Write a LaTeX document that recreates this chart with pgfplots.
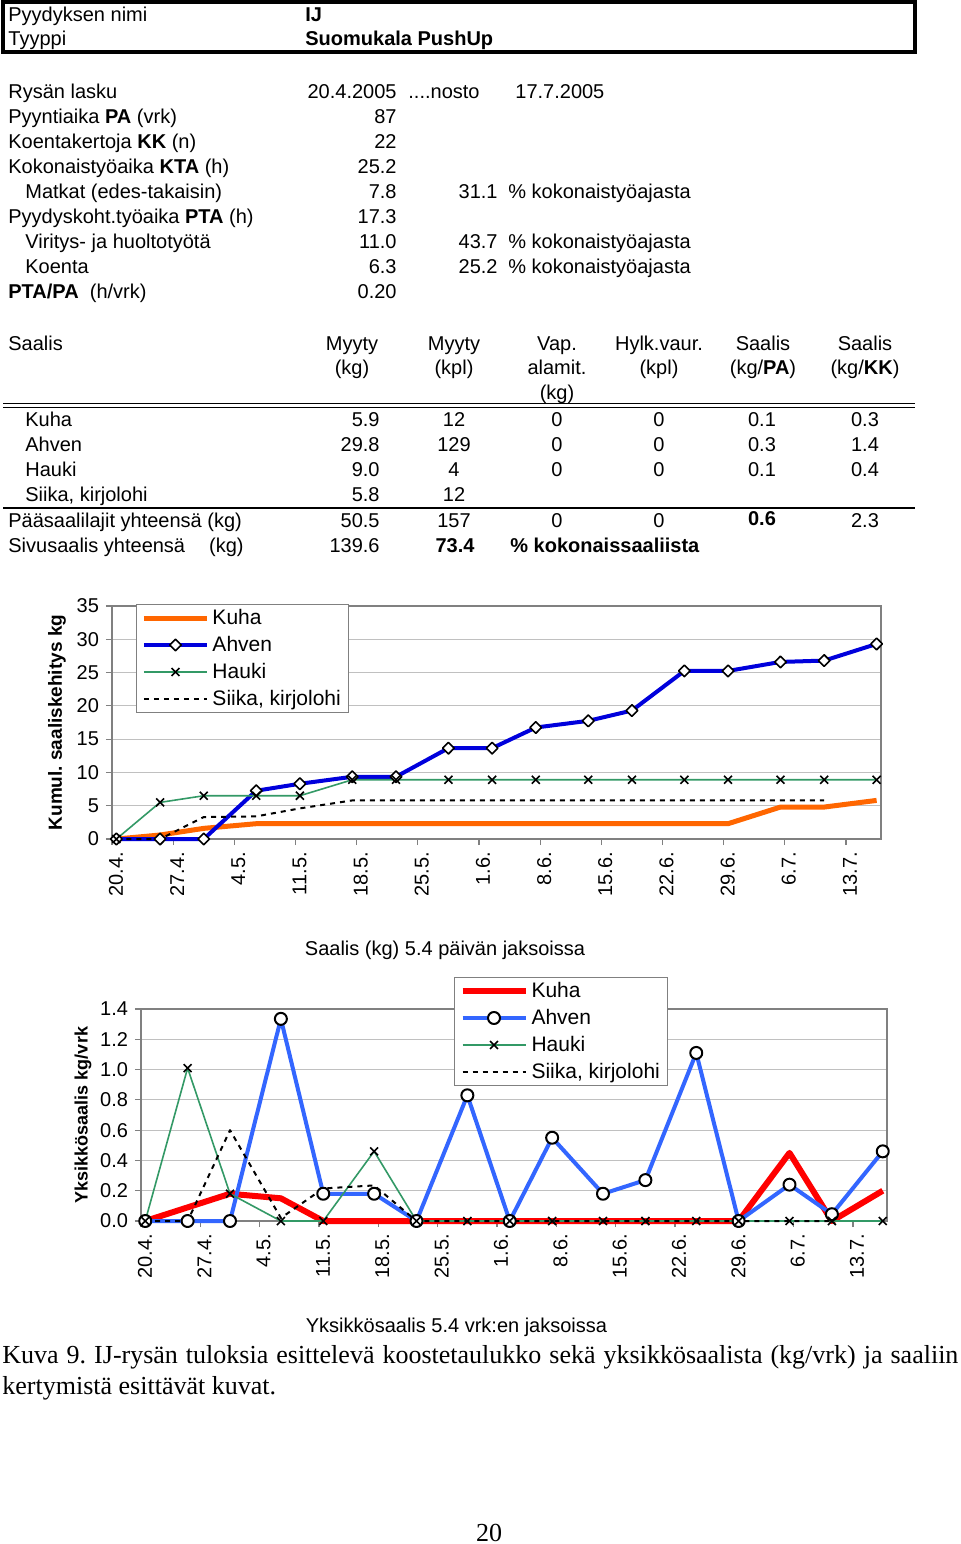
\documentclass[border=0pt]{standalone}
\usepackage{fontspec}
\setmainfont{Liberation Sans}
\newfontfamily\serif{Liberation Serif}
\usepackage{pgfplots}
\usepackage{pgfplotstable}
\pgfplotsset{compat=1.18}

\definecolor{xlorange}{RGB}{255,102,0}
\definecolor{xlblue}{RGB}{0,0,220}
\definecolor{xlgreen}{RGB}{51,153,102}
\definecolor{xlred}{RGB}{255,0,0}
\definecolor{xlroyal}{RGB}{51,102,255}
\definecolor{xlgray}{RGB}{128,128,128}
\definecolor{xlgrid}{RGB}{192,192,192}

% kumulatiivinen saalis (kg), x = paivia 20.4. jalkeen
\pgfplotstableread{
d     kuha ahven hauki siika
0.5   0    0     0     0
5.5   0.6  0     5.5   0
10.5  1.6  0     6.5   3.3
16.5  2.3  7.25  6.5   3.4
21.5  2.3  8.3   6.5   4.6
27.5  2.3  9.35  8.9   5.8
32.5  2.3  9.35  8.9   5.8
38.5  2.3  13.65 8.9   5.8
43.5  2.3  13.65 8.9   5.8
48.5  2.3  16.75 8.9   5.8
54.5  2.3  17.75 8.9   5.8
59.5  2.3  19.3  8.9   5.8
65.5  2.3  25.25 8.9   5.8
70.5  2.3  25.25 8.9   5.8
76.5  4.8  26.6  8.9   5.8
81.5  4.8  26.8  8.9   5.8
87.5  5.8  29.3  8.9   nan
}\cumul

% yksikkosaalis (kg/vrk)
\pgfplotstableread{
d     kuha ahven hauki siika
0.5   0    0     0     0
5.5   0.09 0     1.01  0
10.5  0.18 0     0.18  0.6
16.5  0.15 1.335 0     0.02
21.5  0    0.18  0     0.215
27.5  0    0.18  0.46  0.235
32.5  0    0     0     0
38.5  0    0.83  0     0
43.5  0    0     0     0
48.5  0    0.55  0     0
54.5  0    0.18  0     0
59.5  0    0.27  0     0
65.5  0    1.11  0     0
70.5  0    0     0     0
76.5  0.45 0.24  0     0
81.5  0    0.045 0     0
87.5  0.2  0.46  0     nan
}\daily

\pgfplotsset{
  excel/.style={
    scale only axis, clip=false,
    xmin=0, xmax=88, xtick={0,7,...,84},
    xticklabels={20.4.,27.4.,4.5.,11.5.,18.5.,25.5.,1.6.,8.6.,15.6.,22.6.,29.6.,6.7.,13.7.},
    xticklabel style={xshift=2pt, rotate=90, anchor=east},
    tick pos=left, tick align=outside, major tick length=3pt,
    tick style={xlgray, line width=0.6pt},
    axis line style={xlgray, line width=0.9pt},
    ymajorgrids, major grid style={xlgrid, line width=0.6pt},
    font=\fontsize{10}{12}\selectfont,
    /pgf/number format/assume math mode=true,
    legend cell align=left,
    legend image code/.code={\draw[mark repeat=2, mark phase=2, ##1] plot coordinates {(0pt,0pt) (15.75pt,0pt) (31.5pt,0pt)};},
    legend style={anchor=north west, draw=xlgray, line width=0.5pt, fill=white,
      inner xsep=2.5pt, inner ysep=0.75pt, row sep=1.5pt,
      font=\fontsize{10.5}{12}\selectfont,
      nodes={inner xsep=1.5pt, inner ysep=0pt, text height=9pt, text depth=3pt}},
    every axis plot/.append style={line join=round},
  },
}

\newcommand\tl[3]{\node[anchor=base west, inner sep=0pt] at (#1,#2) {#3};}
\newcommand\tr[3]{\node[anchor=base east, inner sep=0pt] at (#1,#2) {#3};}
\newcommand\tc[3]{\node[anchor=base, inner sep=0pt] at (#1,#2) {#3};}

\begin{document}
\frenchspacing
\begin{tikzpicture}
\begin{scope}[x=0.5pt, y=-0.5pt, font=\fontsize{10}{12}\selectfont]
\fill[white] (0,0) rectangle (960,1544);
\path[use as bounding box] (0,0) rectangle (960,1544);

% otsikkolaatikko
\draw[line width=2pt] (3,2) rectangle (915,52);
\tl{8}{21.5}{Pyydyksen nimi}
\tl{8}{45}{Tyyppi}
\tl{305}{21.5}{\bfseries IJ}
\tl{305}{45}{\bfseries Suomukala PushUp}

% perustiedot
\tl{8}{98}{Rysän lasku}
\tr{397}{98}{20.4.2005}
\tl{408}{98}{....nosto}
\tl{515}{98}{17.7.2005}
\tl{8}{123}{Pyyntiaika \textbf{PA} (vrk)}
\tr{397}{123}{87}
\tl{8}{148}{Koentakertoja \textbf{KK} (n)}
\tr{397}{148}{22}
\tl{8}{173}{Kokonaistyöaika \textbf{KTA} (h)}
\tr{397}{173}{25.2}
\tl{25}{198}{Matkat (edes-takaisin)}
\tr{397}{198}{7.8}
\tr{498}{198}{31.1}
\tl{508}{198}{\% kokonaistyöajasta}
\tl{8}{223}{Pyydyskoht.työaika \textbf{PTA} (h)}
\tr{397}{223}{17.3}
\tl{25}{248}{Viritys- ja huoltotyötä}
\tr{397}{248}{11.0}
\tr{498}{248}{43.7}
\tl{508}{248}{\% kokonaistyöajasta}
\tl{25}{273}{Koenta}
\tr{397}{273}{6.3}
\tr{498}{273}{25.2}
\tl{508}{273}{\% kokonaistyöajasta}
\tl{8}{298}{\textbf{PTA/PA}\ \ (h/vrk)}
\tr{397}{298}{0.20}

% saalistaulukko
\tl{8}{350}{Saalis}
\tc{352}{350}{Myyty}  \tc{352}{374.5}{(kg)}
\tc{454}{350}{Myyty}  \tc{454}{374.5}{(kpl)}
\tc{557}{350}{Vap.}   \tc{557}{374.5}{alamit.} \tc{557}{399}{(kg)}
\tc{659}{350}{Hylk.vaur.} \tc{659}{374.5}{(kpl)}
\tc{763}{350}{Saalis} \tc{763}{374.5}{(kg/\textbf{PA})}
\tc{865}{350}{Saalis} \tc{865}{374.5}{(kg/\textbf{KK})}
\draw[line width=0.7pt] (3,403.3) -- (915,403.3);
\draw[line width=0.7pt] (3,407.3) -- (915,407.3);

\tl{25}{426.5}{Kuha}  \tr{380}{426.5}{5.9}  \tc{454}{426.5}{12}
\tc{557}{426.5}{0} \tc{659}{426.5}{0} \tc{762}{426.5}{0.1} \tc{865}{426.5}{0.3}
\tl{25}{451.5}{Ahven} \tr{380}{451.5}{29.8} \tc{454}{451.5}{129}
\tc{557}{451.5}{0} \tc{659}{451.5}{0} \tc{762}{451.5}{0.3} \tc{865}{451.5}{1.4}
\tl{25}{476.5}{Hauki} \tr{380}{476.5}{9.0}  \tc{454}{476.5}{4}
\tc{557}{476.5}{0} \tc{659}{476.5}{0} \tc{762}{476.5}{0.1} \tc{865}{476.5}{0.4}
\tl{25}{501.5}{Siika, kirjolohi} \tr{380}{501.5}{5.8} \tc{454}{501.5}{12}
\draw[line width=1pt] (3,508.3) -- (915,508.3);
\tl{8}{527}{Pääsaalilajit yhteensä (kg)} \tr{380}{527}{50.5} \tc{454}{527}{157}
\tc{557}{527}{0} \tc{659}{527}{0} \tc{762}{525}{\bfseries 0.6} \tc{865}{527}{2.3}
\tl{8}{552}{Sivusaalis yhteensä\hspace{12pt}(kg)} \tr{380}{552}{139.6} \tc{455}{552}{\bfseries 73.4}
\tl{510}{552}{\bfseries \% kokonaissaaliista}

% kuvateksti ja sivunumero
\node[anchor=base west, inner sep=0pt, font=\serif\fontsize{13}{15}\selectfont] at (2,1363)
  {\makebox[478pt][s]{Kuva 9. IJ-rysän tuloksia esittelevä koostetaulukko sekä yksikkösaalista (kg/vrk) ja saaliin}};
\node[anchor=base west, inner sep=0pt, font=\serif\fontsize{13}{15}\selectfont] at (2,1394)
  {kertymistä esittävät kuvat.};
\node[anchor=base, inner sep=0pt, font=\serif\fontsize{13}{15}\selectfont] at (489,1541) {20};
\end{scope}

% kumulatiivinen saaliskehitys
\begin{axis}[excel,
  at={(56pt,-419.5pt)}, anchor=south west,
  width=384.5pt, height=116.5pt,
  ymin=0, ymax=35, ytick={0,5,...,35},
  ylabel={Kumul. saaliskehitys kg},
  every axis y label/.style={at={(axis description cs:-0.0715,0.5)}, rotate=90, anchor=center,
    font=\fontsize{9.5}{11}\selectfont\bfseries},
  legend style={at={(axis description cs:0.0312,1.0086)}},
]
\addplot[xlorange, line width=2.5pt, no marks] table[x=d, y=kuha] {\cumul};
\addlegendentry{Kuha}
\addplot[xlblue, line width=2pt, mark=diamond*, mark size=2.9pt,
  mark options={solid, fill=white, draw=black, line width=0.8pt, xscale=1.33}] table[x=d, y=ahven] {\cumul};
\addlegendentry{Ahven}
\addplot[xlgreen, line width=0.8pt, mark=x, mark size=2.8pt,
  mark options={black, line width=0.8pt}] table[x=d, y=hauki] {\cumul};
\addlegendentry{Hauki}
\addplot[black, line width=1pt, dash pattern=on 2.5pt off 2.5pt, no marks] table[x=d, y=siika] {\cumul};
\addlegendentry{Siika, kirjolohi}
\end{axis}

% yksikkosaalis
\begin{axis}[excel,
  at={(70.5pt,-610.5pt)}, anchor=south west,
  width=373pt, height=106pt,
  ymin=0, ymax=1.4, ytick={0,0.2,...,1.4},
  yticklabel style={/pgf/number format/.cd, fixed, fixed zerofill, precision=1},
  title={Saalis (kg) 5.4 päivän jaksoissa},
  every axis title/.style={at={(axis description cs:0.4075,1.2547)}, anchor=base},
  xlabel={Yksikkösaalis 5.4 vrk:en jaksoissa},
  every axis x label/.style={at={(axis description cs:0.4229,-0.5236)}, anchor=base},
  ylabel={Yksikkösaalis kg/vrk},
  every axis y label/.style={at={(axis description cs:-0.0777,0.5)}, rotate=90, anchor=center,
    font=\fontsize{9}{11}\selectfont\bfseries},
  legend style={at={(axis description cs:0.4196,1.151)}},
]
\addplot[xlred, line width=3pt, no marks] table[x=d, y=kuha] {\daily};
\addlegendentry{Kuha}
\addplot[xlroyal, line width=2pt, mark=*, mark size=3pt,
  mark options={fill=white, draw=black, line width=1pt}] table[x=d, y=ahven] {\daily};
\addlegendentry{Ahven}
\addplot[xlgreen, line width=0.8pt, mark=x, mark size=2.8pt,
  mark options={black, line width=0.8pt}] table[x=d, y=hauki] {\daily};
\addlegendentry{Hauki}
\addplot[black, line width=1pt, dash pattern=on 2.5pt off 2.5pt, no marks] table[x=d, y=siika] {\daily};
\addlegendentry{Siika, kirjolohi}
\end{axis}
\end{tikzpicture}
\end{document}
